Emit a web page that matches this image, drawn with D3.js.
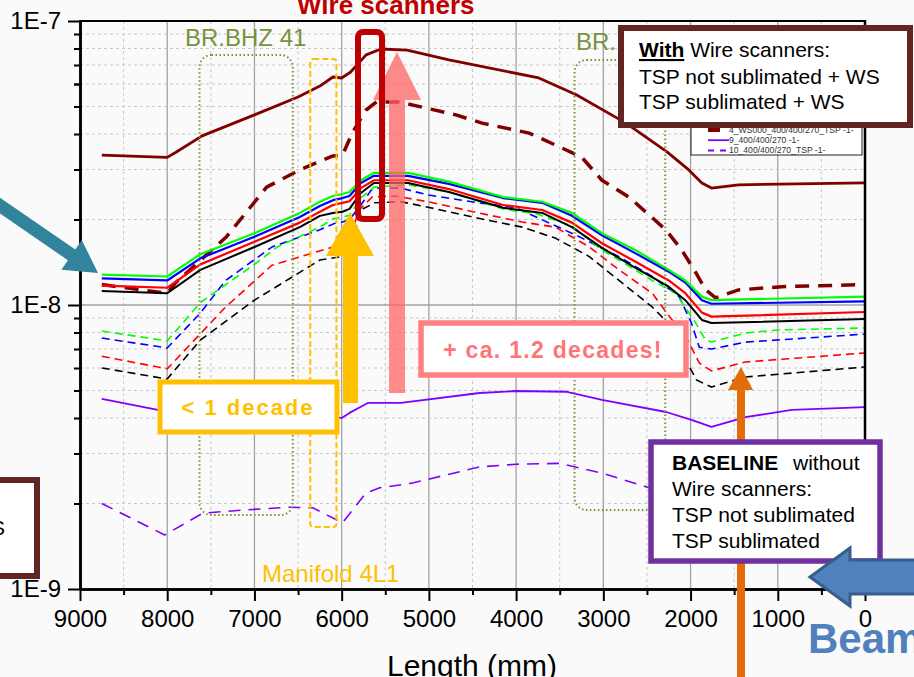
<!DOCTYPE html>
<html><head><meta charset="utf-8">
<script src="https://cdn.jsdelivr.net/npm/d3@7"></script>
<style>
html,body{margin:0;padding:0;background:#fafafa;}
svg{display:block;font-family:"Liberation Sans",Arial,sans-serif;}
</style></head><body>
<svg id="chart" width="914" height="677"></svg>
<script>
// ---------- DATA (length in mm, pressure in mbar) ----------
const xTickVals = [9000,8000,7000,6000,5000,4000,3000,2000,1000,0];
const yTickVals = [1e-9,1e-8,1e-7];
const yTickLabels = ["1E-9","1E-8","1E-7"];

const wsNotSublimated = [[8750,3.37e-8],[8000,3.31e-8],[7900,3.45e-8],[7600,3.94e-8],[7000,4.67e-8],[6500,5.4e-8],[6250,5.9e-8],[6100,6.35e-8],[6000,6.3e-8],[5900,6.6e-8],[5720,7.6e-8],[5550,7.97e-8],[5250,7.9e-8],[4770,7.3e-8],[3740,6.3e-8],[3310,5.5e-8],[2740,4.37e-8],[2270,3.46e-8],[2020,2.99e-8],[1870,2.69e-8],[1760,2.58e-8],[1450,2.65e-8],[0,2.69e-8]];
const wsSublimated = [[8750,1.18e-8],[8000,1.10e-8],[7900,1.2e-8],[7320,1.74e-8],[6860,2.6e-8],[6480,2.99e-8],[6100,3.35e-8],[5990,3.37e-8],[5880,4.03e-8],[5720,4.86e-8],[5600,5.19e-8],[5340,5.19e-8],[4690,4.67e-8],[4390,4.37e-8],[3850,4.03e-8],[3250,3.32e-8],[3016,2.75e-8],[2707,2.4e-8],[2284,1.84e-8],[2100,1.56e-8],[1940,1.3e-8],[1826,1.13e-8],[1712,1.06e-8],[1450,1.13e-8],[956,1.16e-8],[0,1.18e-8]];
const greenSolid = [[8750,1.28e-8],[8000,1.26e-8],[7620,1.51e-8],[7000,1.79e-8],[6480,2.11e-8],[6250,2.31e-8],[6100,2.42e-8],[5990,2.46e-8],[5910,2.5e-8],[5780,2.75e-8],[5630,2.92e-8],[5240,2.92e-8],[4770,2.72e-8],[4150,2.4e-8],[3700,2.31e-8],[3360,2.11e-8],[3016,1.79e-8],[2630,1.56e-8],[2250,1.33e-8],[2060,1.22e-8],[1870,1.07e-8],[1760,1.04e-8],[0,1.07e-8]];
const blueSolid = [[8750,1.24e-8],[8000,1.22e-8],[7620,1.46e-8],[7000,1.74e-8],[6480,2.04e-8],[6250,2.23e-8],[6100,2.34e-8],[5990,2.38e-8],[5910,2.42e-8],[5780,2.69e-8],[5630,2.85e-8],[5240,2.85e-8],[4770,2.67e-8],[4150,2.38e-8],[3700,2.29e-8],[3360,2.06e-8],[3016,1.76e-8],[2630,1.52e-8],[2250,1.31e-8],[2060,1.2e-8],[1870,1.04e-8],[1760,1.01e-8],[0,1.03e-8]];
const redSolid = [[8750,1.17e-8],[8000,1.15e-8],[7620,1.39e-8],[7000,1.67e-8],[6480,1.95e-8],[6250,2.13e-8],[6100,2.25e-8],[5990,2.29e-8],[5910,2.32e-8],[5780,2.58e-8],[5630,2.75e-8],[5240,2.75e-8],[4770,2.56e-8],[4150,2.25e-8],[3700,2.16e-8],[3360,1.95e-8],[3016,1.65e-8],[2630,1.42e-8],[2250,1.22e-8],[2060,1.1e-8],[1870,9.4e-9],[1760,9.1e-9],[0,9.45e-9]];
const blackSolid = [[8750,1.12e-8],[8000,1.10e-8],[7620,1.33e-8],[7000,1.6e-8],[6480,1.88e-8],[6250,2.06e-8],[6100,2.11e-8],[5990,2.13e-8],[5910,2.18e-8],[5780,2.48e-8],[5630,2.69e-8],[5240,2.69e-8],[4770,2.5e-8],[4150,2.2e-8],[3700,2.11e-8],[3360,1.88e-8],[3016,1.59e-8],[2630,1.35e-8],[2250,1.16e-8],[2060,1.04e-8],[1870,8.86e-9],[1760,8.64e-9],[0,8.93e-9]];
const greenDashed = [[8750,8.1e-9],[8000,7.47e-9],[7620,1.02e-8],[7000,1.39e-8],[6740,1.6e-8],[6250,1.88e-8],[6100,2.01e-8],[5990,2.04e-8],[5910,2.07e-8],[5780,2.38e-8],[5630,2.6e-8],[5240,2.65e-8],[4770,2.5e-8],[4150,2.18e-8],[3760,2.09e-8],[3360,1.9e-8],[3016,1.56e-8],[2820,1.44e-8],[2440,1.22e-8],[2170,1.1e-8],[1940,8.64e-9],[1830,7.53e-9],[1760,7.41e-9],[1370,7.97e-9],[990,8.17e-9],[0,8.3e-9]];
const blueDashed = [[8750,7.65e-9],[8000,7.06e-9],[7620,9.37e-9],[7330,1.22e-8],[6800,1.6e-8],[6250,1.84e-8],[6060,1.95e-8],[5990,1.96e-8],[5910,2.0e-8],[5780,2.25e-8],[5660,2.54e-8],[5580,2.58e-8],[5320,2.58e-8],[5010,2.44e-8],[4430,2.29e-8],[4000,2.2e-8],[3770,2.04e-8],[3310,1.76e-8],[2820,1.48e-8],[2440,1.26e-8],[2130,1.07e-8],[1990,8.64e-9],[1900,7.1e-9],[1760,7.0e-9],[1370,7.4e-9],[0,7.9e-9]];
const redDashed = [[8750,6.6e-9],[8000,5.96e-9],[7330,9.84e-9],[6800,1.38e-8],[6100,1.6e-8],[5990,1.63e-8],[5910,1.72e-8],[5800,2.16e-8],[5650,2.4e-8],[5390,2.42e-8],[5010,2.31e-8],[4430,2.11e-8],[3930,1.96e-8],[3550,1.88e-8],[3160,1.6e-8],[2820,1.33e-8],[2440,1.1e-8],[2240,9.1e-9],[2050,7.7e-9],[1900,6.25e-9],[1760,5.86e-9],[1370,6.3e-9],[0,6.78e-9]];
const blackDashed = [[8750,6.0e-9],[8000,5.49e-9],[7620,7.53e-9],[7000,1.04e-8],[6250,1.44e-8],[6000,1.48e-8],[5910,1.54e-8],[5780,2.16e-8],[5620,2.29e-8],[5320,2.31e-8],[5010,2.21e-8],[4430,2.02e-8],[3930,1.88e-8],[3550,1.72e-8],[3160,1.48e-8],[2820,1.22e-8],[2440,9.84e-9],[2330,9.1e-9],[2100,6.78e-9],[1930,5.44e-9],[1760,5.14e-9],[1370,5.58e-9],[0,6.05e-9]];
const purpleSolid = [[8750,4.67e-9],[8050,4.24e-9],[7000,4.12e-9],[6100,4.05e-9],[6000,4.0e-9],[5910,4.17e-9],[5700,4.52e-9],[5320,4.52e-9],[4420,4.9e-9],[4000,4.98e-9],[3430,4.95e-9],[3016,4.63e-9],[2280,4.2e-9],[1990,3.94e-9],[1760,3.72e-9],[1370,4.03e-9],[840,4.27e-9],[0,4.37e-9]];
const purpleDashed = [[8750,2.0e-9],[8030,1.55e-9],[7590,1.85e-9],[7090,1.9e-9],[6600,1.94e-9],[6330,1.93e-9],[5990,1.71e-9],[5720,2.18e-9],[5570,2.27e-9],[5190,2.36e-9],[4420,2.69e-9],[4000,2.75e-9],[3500,2.77e-9],[3016,2.56e-9],[2510,2.29e-9],[2000,2.0e-9],[1750,1.75e-9],[1000,1.9e-9],[0,2.0e-9]];

const legendNames = ["4_WS000_400/400/270_TSP -1-","9_400/400/270 -1-","10_400/400/270_TSP -1-"];

// ---------- SETUP ----------
const svg = d3.select("#chart");
const FONT = "'Liberation Sans', Arial, sans-serif";
const x = d3.scaleLinear().domain([9000,0]).range([80,865]);
const y = d3.scaleLog().domain([1e-9,1e-7]).range([589,21]);

// grid
const gGrid = svg.append("g");
const xGridVals = d3.range(500, 9000, 500);
gGrid.selectAll("line.vx").data(xGridVals).join("line")
  .attr("x1", d=>x(d)).attr("x2", d=>x(d)).attr("y1", y(1e-7)).attr("y2", y(1e-9))
  .attr("stroke", d=> d%1000===0 ? "#a3a3a3" : "#c8c8c8")
  .attr("stroke-width", d=> d%1000===0 ? 1.3 : 1)
  .attr("stroke-dasharray", d=> d%1000===0 ? null : "3,3");
const yMinor = [];
[1e-9,1e-8].forEach(dec => { for (let k=2;k<=9;k++) yMinor.push(k*dec); });
gGrid.selectAll("line.hy").data(yMinor).join("line")
  .attr("x1", 80).attr("x2", 865).attr("y1", d=>y(d)).attr("y2", d=>y(d))
  .attr("stroke", "#c8c8c8").attr("stroke-dasharray","3,3");
gGrid.append("line").attr("x1",80).attr("x2",865).attr("y1",y(1e-8)).attr("y2",y(1e-8))
  .attr("stroke","#a3a3a3").attr("stroke-width",1.3);

// ---------- SERIES ----------
const line = d3.line().x(d=>x(d[0])).y(d=>y(d[1]));
const series = [
  {d: purpleDashed, c:"#8000ff", w:1.6, dash:"12,8"},
  {d: purpleSolid, c:"#8000ff", w:1.8},
  {d: blackDashed, c:"#000000", w:1.6, dash:"8,5"},
  {d: redDashed, c:"#ff0000", w:1.6, dash:"8,5"},
  {d: blueDashed, c:"#0000ff", w:1.6, dash:"8,5"},
  {d: greenDashed, c:"#00ff00", w:1.6, dash:"8,5"},
  {d: wsSublimated, c:"#800000", w:3.5, dash:"14,9"},
  {d: wsNotSublimated, c:"#800000", w:2.8},
  {d: blackSolid, c:"#000000", w:2},
  {d: redSolid, c:"#ff0000", w:2.2},
  {d: blueSolid, c:"#0000ff", w:2.2},
  {d: greenSolid, c:"#00ff00", w:2.2}
];
svg.append("g").selectAll("path").data(series).join("path")
  .attr("d", s=>line(s.d)).attr("fill","none")
  .attr("stroke", s=>s.c).attr("stroke-width", s=>s.w)
  .attr("stroke-dasharray", s=>s.dash||null).attr("stroke-linejoin","round");

// ---------- AXES ----------
const gx = svg.append("g").attr("transform","translate(0,589)")
  .call(d3.axisBottom(x).tickValues(xTickVals).tickFormat(d3.format("d")).tickSize(12).tickPadding(9).tickSizeOuter(0))
  .attr("font-family", FONT).attr("font-size", 24);
const gxm = svg.append("g").attr("transform","translate(0,589)")
  .call(d3.axisBottom(x).tickValues(d3.range(500,9000,1000)).tickFormat("").tickSize(6).tickSizeOuter(0));
const gy = svg.append("g").attr("transform","translate(80,0)")
  .call(d3.axisLeft(y).tickValues(yTickVals).tickFormat((d,i)=>yTickLabels[i]).tickSize(12).tickPadding(7).tickSizeOuter(0))
  .attr("font-family", FONT).attr("font-size", 24);
const yMinorAll = yMinor.concat([2e-8,3e-8,4e-8,5e-8,6e-8,7e-8,8e-8,9e-8].filter(v=>!yMinor.includes(v)));
const gym = svg.append("g").attr("transform","translate(80,0)")
  .call(d3.axisLeft(y).tickValues(yMinorAll).tickFormat("").tickSize(6).tickSizeOuter(0));
[gx,gxm,gy,gym].forEach(g=>{
  g.select(".domain").attr("stroke","#000").attr("stroke-width",2.5);
  g.selectAll(".tick line").attr("stroke","#000").attr("stroke-width",2);
  g.selectAll(".tick text").attr("fill","#000");
});
svg.append("line").attr("x1",79).attr("x2",866).attr("y1",21).attr("y2",21).attr("stroke","#000").attr("stroke-width",2);
svg.append("line").attr("x1",865).attr("x2",865).attr("y1",20).attr("y2",590).attr("stroke","#000").attr("stroke-width",2.5);

svg.append("text").attr("x",472).attr("y",676).attr("text-anchor","middle")
  .attr("font-family",FONT).attr("font-size",30).attr("fill","#000").text("Length (mm)");

// ---------- ANNOTATIONS ----------
const olive = "#77933c";
svg.append("rect").attr("x",x(7630)).attr("y",55).attr("width",x(6560)-x(7630)).attr("height",460)
  .attr("rx",12).attr("fill","none").attr("stroke",olive).attr("stroke-width",2).attr("stroke-dasharray","1.5,2.5");
svg.append("rect").attr("x",x(3330)).attr("y",60).attr("width",x(2290)-x(3330)).attr("height",450)
  .attr("rx",12).attr("fill","none").attr("stroke",olive).attr("stroke-width",2).attr("stroke-dasharray","1.5,2.5");
svg.append("text").attr("x",185).attr("y",46).attr("font-family",FONT).attr("font-size",24).attr("fill",olive).text("BR.BHZ 41");
svg.append("text").attr("x",576).attr("y",50).attr("font-family",FONT).attr("font-size",24).attr("fill",olive).text("BR.");

// manifold dashed rect
svg.append("rect").attr("x",x(6360)).attr("y",59).attr("width",x(6060)-x(6360)).attr("height",468)
  .attr("rx",3).attr("fill","none").attr("stroke","#ffc000").attr("stroke-width",2).attr("stroke-dasharray","6,3");
svg.append("text").attr("x",262).attr("y",582).attr("font-family",FONT).attr("font-size",24).attr("fill","#ffc000").text("Manifold 4L1");

// legend
const lg = svg.append("g");
lg.append("rect").attr("x",691).attr("y",108).attr("width",171).attr("height",47).attr("fill","#fff").attr("stroke","#222").attr("stroke-width",1);
const legStyles = [{c:"#800000", w:4, dash:null, x2:720},{c:"#8000ff", w:1.8, dash:null, x2:729},{c:"#8000ff", w:2, dash:"6,6", x2:729}];
legendNames.forEach((n,i)=>{
  const yy = 130 + i*10.2;
  lg.append("line").attr("x1",708).attr("x2",legStyles[i].x2).attr("y1",yy).attr("y2",yy)
    .attr("stroke",legStyles[i].c).attr("stroke-width",legStyles[i].w).attr("stroke-dasharray",legStyles[i].dash);
  lg.append("text").attr("x",729).attr("y",yy+3).attr("font-family",FONT).attr("font-size",8.6).attr("fill","#333").text(n);
});

// orange arrow
svg.append("rect").attr("x",737).attr("y",388).attr("width",8).attr("height",300).attr("fill","#e46c0a");
svg.append("polygon").attr("points","728,390 753,390 741,367").attr("fill","#e46c0a");

// pink arrow
const pink = svg.append("g").attr("opacity",0.75);
pink.append("rect").attr("x",389).attr("y",99).attr("width",16).attr("height",294).attr("fill","#ff6464");
pink.append("polygon").attr("points","373,100 421,100 397,52").attr("fill","#ff6464");

// yellow arrow
svg.append("rect").attr("x",343).attr("y",250).attr("width",15).attr("height",153).attr("fill","#ffc000");
svg.append("polygon").attr("points","326,256 374,256 350,213").attr("fill","#ffc000");

// dark red rounded rect
svg.append("rect").attr("x",358).attr("y",32).attr("width",24).attr("height",187).attr("rx",5)
  .attr("fill","none").attr("stroke","#c00000").attr("stroke-width",6);

// title
svg.append("text").attr("x",297).attr("y",14).attr("font-family",FONT).attr("font-size",26).attr("font-weight","bold").attr("fill","#c00000").text("Wire scanners");

// < 1 decade box
svg.append("rect").attr("x",160).attr("y",382).attr("width",177).attr("height",50).attr("fill","#fff").attr("stroke","#ffc000").attr("stroke-width",5);
svg.append("text").attr("x",248).attr("y",415).attr("text-anchor","middle").attr("font-family",FONT).attr("font-size",22)
  .attr("font-weight","bold").attr("letter-spacing",2).attr("fill","#ffc000").text("< 1 decade");

// + ca. 1.2 decades box
svg.append("rect").attr("x",421).attr("y",323).attr("width",265).attr("height",52).attr("fill","#fff").attr("stroke","#ff8080").attr("stroke-width",5.5);
svg.append("text").attr("x",553).attr("y",358).attr("text-anchor","middle").attr("font-family",FONT).attr("font-size",23)
  .attr("font-weight","bold").attr("letter-spacing",1.3).attr("fill","#ff7478").text("+ ca. 1.2 decades!");

// With box
svg.append("rect").attr("x",621).attr("y",28).attr("width",289).attr("height",97).attr("fill","#fff").attr("stroke","#632523").attr("stroke-width",6);
const tw = svg.append("text").attr("x",639).attr("y",57).attr("font-family",FONT).attr("font-size",21).attr("fill","#000");
tw.append("tspan").attr("font-weight","bold").attr("text-decoration","underline").text("With");
tw.append("tspan").text(" Wire scanners:");
svg.append("text").attr("x",639).attr("y",84).attr("font-family",FONT).attr("font-size",21).attr("fill","#000").text("TSP not sublimated + WS");
svg.append("text").attr("x",639).attr("y",109).attr("font-family",FONT).attr("font-size",21).attr("fill","#000").text("TSP sublimated + WS");

// Baseline box
svg.append("rect").attr("x",651).attr("y",442).attr("width",229).attr("height",119).attr("fill","#fff").attr("stroke","#7030a0").attr("stroke-width",5.5);
const tb = svg.append("text").attr("x",672).attr("y",470).attr("font-family",FONT).attr("font-size",21).attr("fill","#000");
tb.append("tspan").attr("font-weight","bold").text("BASELINE");
tb.append("tspan").attr("x",793).text("without");
svg.append("text").attr("x",672).attr("y",496).attr("font-family",FONT).attr("font-size",21).attr("fill","#000").text("Wire scanners:");
svg.append("text").attr("x",672).attr("y",522).attr("font-family",FONT).attr("font-size",21).attr("fill","#000").text("TSP not sublimated");
svg.append("text").attr("x",672).attr("y",548).attr("font-family",FONT).attr("font-size",21).attr("fill","#000").text("TSP sublimated");

// left brown box (partially off-canvas)
svg.append("rect").attr("x",-20).attr("y",480).attr("width",57).attr("height",96).attr("fill","#fff").attr("stroke","#632523").attr("stroke-width",6);
svg.append("text").attr("x",5).attr("y",535).attr("text-anchor","end").attr("font-family",FONT).attr("font-size",21).attr("fill","#000").text("WS");

// arrows helper
function arrowPts(x0,y0,x1,y1,sw,hw,hl){
  const dx=x1-x0, dy=y1-y0, L=Math.hypot(dx,dy), ux=dx/L, uy=dy/L, px=-uy, py=ux;
  const bx=x1-ux*hl, by=y1-uy*hl;
  return [[x0+px*sw/2,y0+py*sw/2],[bx+px*sw/2,by+py*sw/2],[bx+px*hw/2,by+py*hw/2],[x1,y1],
          [bx-px*hw/2,by-py*hw/2],[bx-px*sw/2,by-py*sw/2],[x0-px*sw/2,y0-py*sw/2]].map(p=>p.join(",")).join(" ");
}
// teal arrow
svg.append("polygon").attr("points",arrowPts(-20,192,98,273,13,36,32)).attr("fill","#31849b");
// beam arrow
svg.append("polygon").attr("points",arrowPts(935,577,810,577,34,58,40)).attr("fill","#4f81bd").attr("stroke","#385d8a").attr("stroke-width",3);
svg.append("text").attr("x",808).attr("y",653).attr("font-family",FONT).attr("font-size",42).attr("font-weight","bold").attr("fill","#4f81bd").text("Beam");
</script></body></html>
